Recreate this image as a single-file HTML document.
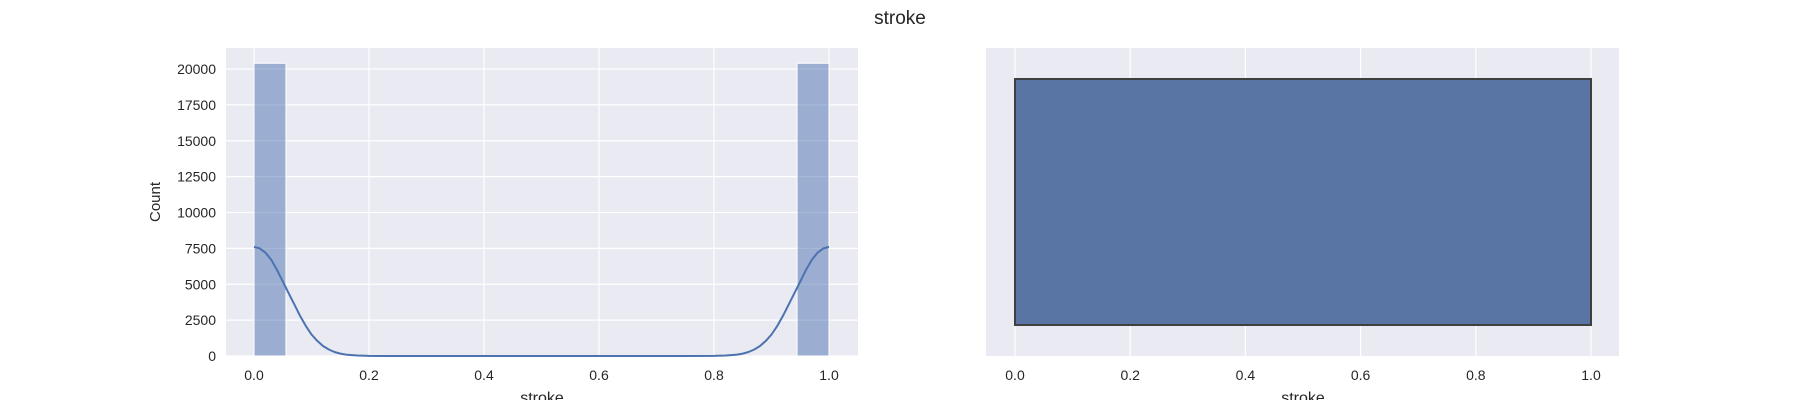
<!DOCTYPE html>
<html><head><meta charset="utf-8"><style>
html,body{margin:0;padding:0;background:#fff;}
svg{display:block;font-family:"Liberation Sans",Arial,sans-serif;}
</style></head><body>
<svg id="fig" width="1800" height="400" viewBox="0 0 1800 400" xmlns="http://www.w3.org/2000/svg">
<text x="900" y="24" font-size="19" text-anchor="middle" fill="#262626">stroke</text>
<g id="left"></g>
<g id="right"></g>
</svg>
<script>
// Histogram data (18 bins over 0..1)
const binCounts = [20400, 0, 0, 0, 0, 0, 0, 0, 0, 0, 0, 0, 0, 0, 0, 0, 0, 20400];
const binMin = 0, binMax = 1;
const kdeX = [0, 0.01, 0.02, 0.03, 0.04, 0.05, 0.06, 0.07, 0.08, 0.09, 0.1, 0.11, 0.12, 0.13, 0.14, 0.15, 0.16, 0.17, 0.18, 0.2, 0.25, 0.5, 0.75, 0.8, 0.82, 0.83, 0.84, 0.85, 0.86, 0.87, 0.88, 0.89, 0.9, 0.91, 0.92, 0.93, 0.94, 0.95, 0.96, 0.97, 0.98, 0.99, 1.0];
const kdeY = [7600, 7500, 7200, 6700, 6000, 5200, 4400, 3600, 2800, 2100, 1500, 1050, 700, 450, 280, 170, 100, 60, 35, 10, 0, 0, 0, 10, 35, 60, 100, 170, 280, 450, 700, 1050, 1500, 2100, 2800, 3600, 4400, 5200, 6000, 6700, 7200, 7500, 7600];
const histXTicks = [0, 0.2, 0.4, 0.6, 0.8, 1.0];
const histYTicks = [0, 2500, 5000, 7500, 10000, 12500, 15000, 17500, 20000];
// Box plot data
const boxStats = {min: 0, q1: 0, median: 1, q3: 1, max: 1};
const boxXTicks = [0, 0.2, 0.4, 0.6, 0.8, 1.0];

const NS = "http://www.w3.org/2000/svg";
function mk(tag, attrs, parent){const e=document.createElementNS(NS,tag);for(const k in attrs)e.setAttribute(k,attrs[k]);parent.appendChild(e);return e;}

// Left panel
const L = document.getElementById('left');
const lx0=226, lx1=858, ly0=48, ly1=356;
const hx = v => 254 + (v-0)*(829-254);
const hy = v => 356 - v*(287/20000);
let bg = mk('rect',{x:lx0,y:ly0,width:lx1-lx0,height:ly1-ly0,fill:'#eaeaf2'},L);


histYTicks.forEach(t=>{
  const y=hy(t);
  const g=mk('line',{x1:lx0,x2:lx1,y1:y,y2:y,stroke:'#fff','stroke-width':1.2},L);
  
  
  const tx=mk('text',{x:lx0-10,y:y+5,'font-size':14,'text-anchor':'end',fill:'#262626'},L);
  tx.textContent=t;
  
  
});
histXTicks.forEach(t=>{
  const x=hx(t);
  const g=mk('line',{x1:x,x2:x,y1:ly0,y2:ly1,stroke:'#fff','stroke-width':1.2},L);
  
  
  const tx=mk('text',{x:x,y:380,'font-size':14,'text-anchor':'middle',fill:'#262626'},L);
  tx.textContent=t.toFixed(1);
  
  
});
const bw=(binMax-binMin)/binCounts.length;
binCounts.forEach((c,i)=>{
  if(c<=0) return;
  const x=hx(binMin+i*bw), w=hx(binMin+(i+1)*bw)-x;
  const r=mk('rect',{x:x,y:hy(c),width:w,height:hy(0)-hy(c),fill:'rgba(76,114,176,0.5)',stroke:'#fff','stroke-width':1},L);
  
  
});
const kp=mk('path',{d:kdeX.map((v,i)=>(i?'L':'M')+hx(v).toFixed(1)+','+hy(kdeY[i]).toFixed(1)).join(''),fill:'none',stroke:'#4c72b0','stroke-width':2,'stroke-linejoin':'round'},L);


let yl=mk('text',{x:160,y:202,'font-size':15,'text-anchor':'middle',fill:'#262626',transform:'rotate(-90 160 202)'},L);
yl.textContent='Count';


let xl=mk('text',{x:542,y:403,'font-size':16,'text-anchor':'middle',fill:'#262626'},L);
xl.textContent='stroke';



// Right panel
const R = document.getElementById('right');
const rx0=986, rx1=1619;
const bx = v => 1015 + v*(1591-1015);
let bg2=mk('rect',{x:rx0,y:ly0,width:rx1-rx0,height:ly1-ly0,fill:'#eaeaf2'},R);


boxXTicks.forEach(t=>{
  const x=bx(t);
  const g=mk('line',{x1:x,x2:x,y1:ly0,y2:ly1,stroke:'#fff','stroke-width':1.2},R);
  
  
  const tx=mk('text',{x:x,y:380,'font-size':14,'text-anchor':'middle',fill:'#262626'},R);
  tx.textContent=t.toFixed(1);
  
  
});
const by0=79, by1=325;
const box=mk('rect',{x:bx(boxStats.q1),y:by0,width:bx(boxStats.q3)-bx(boxStats.q1),height:by1-by0,fill:'#5975a4',stroke:'#3f3f3f','stroke-width':2},R);


let xl2=mk('text',{x:1303,y:403,'font-size':16,'text-anchor':'middle',fill:'#262626'},R);
xl2.textContent='stroke';


</script>
</body></html>
